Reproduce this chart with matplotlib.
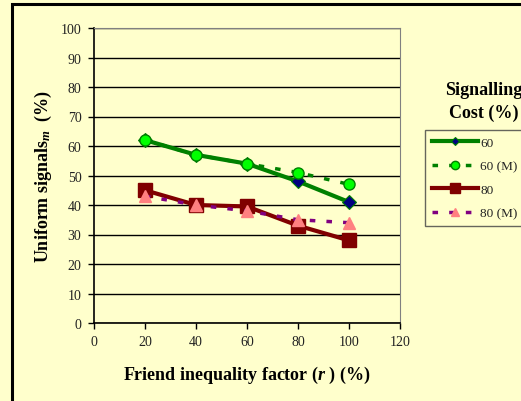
import matplotlib
matplotlib.use("Agg")
import matplotlib.pyplot as plt
from matplotlib.patches import Rectangle

plt.rcParams['font.family'] = ['Liberation Serif', 'DejaVu Serif']
plt.rcParams['mathtext.fontset'] = 'custom'
plt.rcParams['mathtext.rm'] = 'Liberation Serif:bold'
plt.rcParams['mathtext.it'] = 'Liberation Serif:italic:bold'
plt.rcParams['mathtext.bf'] = 'Liberation Serif:bold'

# data
r_values = [20, 40, 60, 80, 100]
cost60 = [62, 57, 54, 48, 41]
cost60_m = [62, 57, 54, 51, 47]
cost80 = [45, 40, 39.5, 33, 28]
cost80_m = [43, 40, 38, 35, 34]
x_ticks = [0, 20, 40, 60, 80, 100, 120]
y_ticks = [0, 10, 20, 30, 40, 50, 60, 70, 80, 90, 100]

bg = '#FFFFCC'
text_col = '#222222'

fig = plt.figure(figsize=(5.21, 4.02), dpi=100, facecolor=bg)
ax = fig.add_axes([94 / 521, 1 - 324 / 402, 306 / 521, 295 / 402])
ax.set_facecolor(bg)

# outer chart border
fig.patches.append(Rectangle((12 / 521, -0.05), 1.1, 1 - 5 / 402 + 0.05, transform=fig.transFigure,
                             fill=False, edgecolor='black', linewidth=2.2))

l60, = ax.plot(r_values, cost60, color='#008000', linewidth=3, marker='D', markersize=7.5,
               markerfacecolor='#000080', markeredgecolor='#008000', markeredgewidth=0.8, label='60', zorder=3)
l60m, = ax.plot(r_values, cost60_m, color='#008000', linewidth=2.5, linestyle=(0, (1.6, 3.2)), marker='o',
                markersize=8, markerfacecolor='#00FF00', markeredgecolor='#008000', markeredgewidth=1,
                label='60 (M)', zorder=3)
l80, = ax.plot(r_values, cost80, color='#800000', linewidth=3, marker='s', markersize=10,
               markerfacecolor='#800000', markeredgecolor='#800000', label='80', zorder=3)
l80m, = ax.plot(r_values, cost80_m, color='#800080', linewidth=2.5, linestyle=(0, (1.6, 3.2)), marker='^',
                markersize=8.5, markerfacecolor='#FF8080', markeredgecolor='#FF8080', label='80 (M)', zorder=3)

ax.set_xlim(0, 120)
ax.set_ylim(0, 100)
ax.set_xticks(x_ticks)
ax.set_yticks(y_ticks)
ax.yaxis.grid(True, color='black', linewidth=1)
ax.set_axisbelow(True)
ax.tick_params(direction='out', length=4, width=1, colors='black', labelcolor=text_col, labelsize=10, pad=5)
ax.spines['top'].set_color('#808080')
ax.spines['right'].set_color('#808080')
ax.spines['left'].set_linewidth(1.2)
ax.spines['bottom'].set_linewidth(1.2)

ax.set_xlabel('Friend inequality factor ($r$ ) (%)', fontsize=13, fontweight='bold', labelpad=11)
ax.set_ylabel('Uniform signals$_m$  (%)', fontsize=13, fontweight='bold', labelpad=5)

fig.text(484 / 521, 1 - 102 / 402, 'Signalling\nCost (%)', ha='center', va='center',
         fontsize=13, fontweight='bold', linespacing=1.45)

leg = fig.legend(loc='upper left', bbox_to_anchor=(425 / 521, 1 - 131 / 402), fontsize=9.5,
                 handlelength=3.5, labelspacing=0.85, handletextpad=0.2, borderaxespad=0,
                 borderpad=0.5, frameon=True, fancybox=False, facecolor=bg, edgecolor='#404040')
leg.get_frame().set_linewidth(1)
for txt in leg.get_texts():
    txt.set_color(text_col)
for handle, size in zip(leg.legend_handles, [4.5, 6, 7, 6]):
    handle.set_markersize(size)

fig.savefig('out.png', dpi=100, facecolor=bg)
